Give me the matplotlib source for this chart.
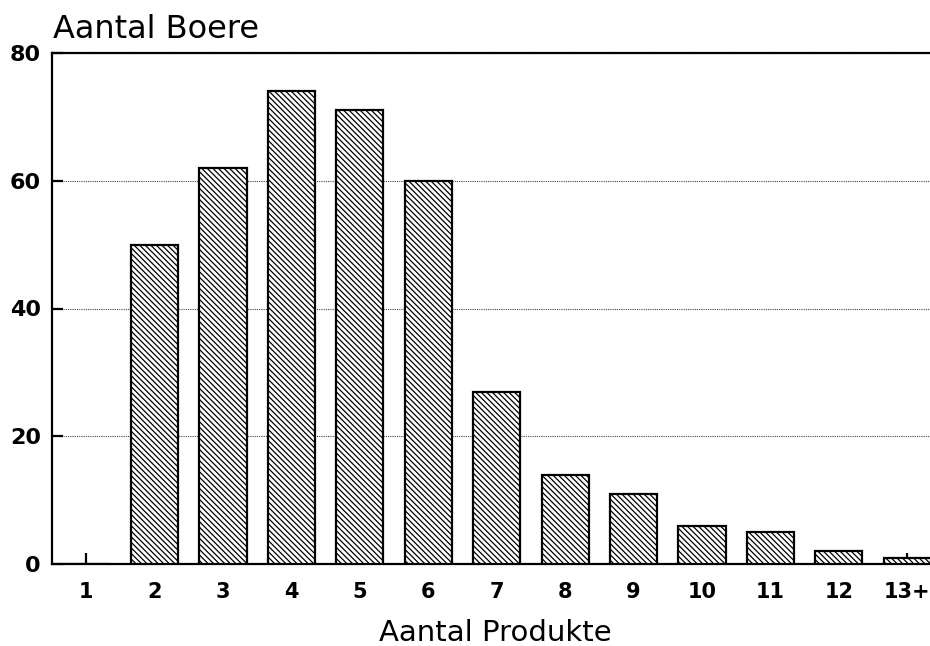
import matplotlib
matplotlib.use("Agg")
import matplotlib.pyplot as plt
import numpy as np

# aantal produkte per boer
categories = ["1", "2", "3", "4", "5", "6", "7", "8", "9", "10", "11", "12", "13+"]
boere = [0, 50, 62, 74, 71, 60, 27, 14, 11, 6, 5, 2, 1]
yticks = [0, 20, 40, 60, 80]

plt.rcParams['font.family'] = ['DejaVu Sans']
plt.rcParams['hatch.linewidth'] = 0.9
plt.rcParams['hatch.color'] = 'black'

fig = plt.figure(figsize=(9.3, 6.46), dpi=100)
ax = fig.add_axes([52 / 930, 1 - 564 / 646, 1 - 52 / 930 + 0.002, (564 - 53) / 646])

x = np.arange(1, len(categories) + 1)
ax.bar(x, boere, width=0.69, color='white', edgecolor='black', linewidth=1.6,
       hatch='\\\\\\\\\\\\', zorder=3)

ax.set_xlim(0.5, 13.36)
ax.set_ylim(0, 80)
ax.set_xticks(x)
ax.set_xticklabels(categories)
ax.set_yticks(yticks)

for lab in ax.get_yticklabels():
    lab.set_fontweight('bold')
    lab.set_fontsize(16)
for lab in ax.get_xticklabels():
    lab.set_fontweight('bold')
    lab.set_fontsize(15)

ax.tick_params(axis='x', direction='in', length=8, width=1.6, pad=13)
ax.tick_params(axis='y', direction='in', length=8, width=1.6, pad=8)

ax.yaxis.grid(True, linestyle=(0, (1, 1)), linewidth=0.8, color='#444444', zorder=0)
ax.set_axisbelow(True)

for side in ['left', 'bottom', 'top']:
    ax.spines[side].set_linewidth(1.6)
ax.spines['right'].set_visible(False)

fig.text(53 / 930, 1 - 38 / 646, "Aantal Boere", fontsize=23, ha='left', va='baseline')
fig.text(495 / 930, 1 - 641 / 646, "Aantal Produkte", fontsize=21, ha='center', va='baseline')

fig.savefig("out.png", dpi=100, facecolor='white')
